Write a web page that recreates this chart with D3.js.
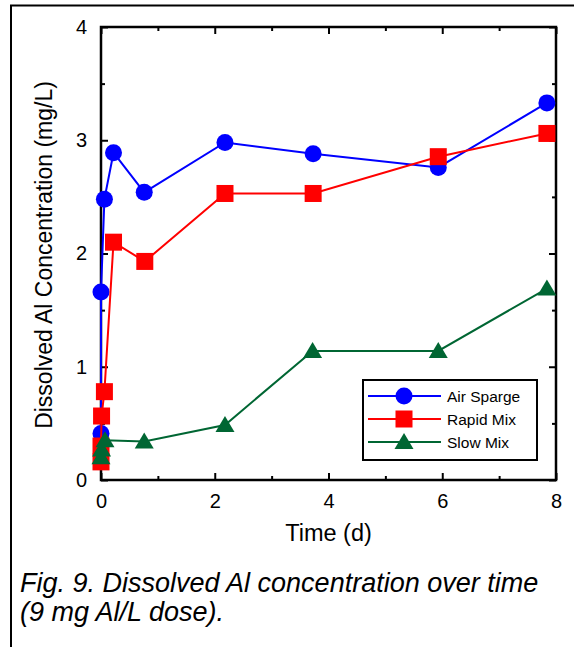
<!DOCTYPE html>
<html>
<head>
<meta charset="utf-8">
<script src="https://cdn.jsdelivr.net/npm/d3@7"></script>
<style>
  body { margin: 0; background: #fff; }
  svg { display: block; }
  svg text { font-family: "Liberation Sans", Arial, sans-serif; }
</style>
</head>
<body>
<div id="chart"></div>
<script>
// values
const airTime = [0, 0, 0.06, 0.22, 0.76, 2.18, 3.73, 5.93, 7.84];
const airConc = [0.41, 1.66, 2.48, 2.89, 2.54, 2.98, 2.88, 2.76, 3.33];

const rapidTime = [0, 0, 0.01, 0.06, 0.22, 0.77, 2.18, 3.73, 5.93, 7.84];
const rapidConc = [0.16, 0.3, 0.565, 0.78, 2.10, 1.93, 2.53, 2.53, 2.855, 3.06];

const slowTime = [0, 0.01, 0.07, 0.76, 2.18, 3.72, 5.93, 7.84];
const slowConc = [0.2, 0.27, 0.35, 0.34, 0.486, 1.14, 1.14, 1.69];

const xTicks = [0, 2, 4, 6, 8];
const yTicks = [0, 1, 2, 3, 4];

const series = [
  { name: "Air Sparge", color: "#0000ff", shape: "circle", t: airTime, c: airConc },
  { name: "Rapid Mix", color: "#ff0000", shape: "square", t: rapidTime, c: rapidConc },
  { name: "Slow Mix", color: "#006633", shape: "triangle", t: slowTime, c: slowConc }
];

const W = 574, H = 647;
const margin = { top: 27, left: 101 };
const width = 455, height = 453;

const svg = d3.select("#chart").append("svg")
  .attr("width", W).attr("height", H);

// outer frame
svg.append("rect")
  .attr("x", 11).attr("y", 5.5)
  .attr("width", 600).attr("height", 700)
  .attr("fill", "none").attr("stroke", "#000").attr("stroke-width", 2);

const g = svg.append("g").attr("transform", `translate(${margin.left},${margin.top})`);

const x = d3.scaleLinear().domain([0, 8]).range([0, width]);
const y = d3.scaleLinear().domain([0, 4]).range([height, 0]);

const minorX = d3.range(1, 8, 2);
const minorY = d3.range(0.5, 4, 1);

function styleAxis(sel) {
  sel.attr("font-family", null).attr("font-size", null);
  sel.select(".domain").remove();
  sel.selectAll("line").attr("stroke", "#000").attr("stroke-width", 2);
  sel.selectAll("text").attr("fill", "#000").style("font-size", "20px");
}

// bottom axis
g.append("g").attr("transform", `translate(0,${height})`)
  .call(d3.axisBottom(x).tickValues(xTicks).tickSizeInner(-7).tickSizeOuter(0).tickPadding(14).tickFormat(d3.format("d")))
  .call(styleAxis);
g.append("g").attr("transform", `translate(0,${height})`)
  .call(d3.axisBottom(x).tickValues(minorX).tickSizeInner(-4).tickSizeOuter(0).tickFormat(""))
  .call(styleAxis);
// top axis
g.append("g")
  .call(d3.axisTop(x).tickValues(xTicks).tickSizeInner(-7).tickSizeOuter(0).tickFormat(""))
  .call(styleAxis);
g.append("g")
  .call(d3.axisTop(x).tickValues(minorX).tickSizeInner(-4).tickSizeOuter(0).tickFormat(""))
  .call(styleAxis);
// left axis
g.append("g")
  .call(d3.axisLeft(y).tickValues(yTicks).tickSizeInner(-7).tickSizeOuter(0).tickPadding(14).tickFormat(d3.format("d")))
  .call(styleAxis);
g.append("g")
  .call(d3.axisLeft(y).tickValues(minorY).tickSizeInner(-4).tickSizeOuter(0).tickFormat(""))
  .call(styleAxis);
// right axis
g.append("g").attr("transform", `translate(${width},0)`)
  .call(d3.axisRight(y).tickValues(yTicks).tickSizeInner(-7).tickSizeOuter(0).tickFormat(""))
  .call(styleAxis);
g.append("g").attr("transform", `translate(${width},0)`)
  .call(d3.axisRight(y).tickValues(minorY).tickSizeInner(-4).tickSizeOuter(0).tickFormat(""))
  .call(styleAxis);

// plot frame
g.append("rect")
  .attr("width", width).attr("height", height)
  .attr("fill", "none").attr("stroke", "#000").attr("stroke-width", 2.5);

function marker(sel, shape, color) {
  if (shape === "circle") {
    sel.append("circle").attr("r", 8.5).attr("fill", color);
  } else if (shape === "square") {
    sel.append("rect").attr("x", -8.5).attr("y", -8.5)
      .attr("width", 17).attr("height", 17).attr("fill", color);
  } else {
    sel.append("path").attr("d", "M0,-9L9.5,7L-9.5,7Z").attr("fill", color);
  }
}

const line = d3.line().x(d => x(d[0])).y(d => y(d[1]));

series.forEach(s => {
  const pts = s.t.map((t, i) => [t, s.c[i]]);
  g.append("path").datum(pts)
    .attr("d", line)
    .attr("fill", "none").attr("stroke", s.color).attr("stroke-width", 2);
  g.selectAll(null).data(pts).enter().append("g")
    .attr("transform", d => `translate(${x(d[0])},${y(d[1])})`)
    .each(function () { marker(d3.select(this), s.shape, s.color); });
});

// legend
const lg = svg.append("g").attr("transform", "translate(363,380)");
lg.append("rect").attr("width", 174).attr("height", 80)
  .attr("fill", "#fff").attr("stroke", "#000").attr("stroke-width", 2);
series.forEach((s, i) => {
  const ry = 16 + i * 23;
  lg.append("line").attr("x1", 5).attr("x2", 78).attr("y1", ry).attr("y2", ry)
    .attr("stroke", s.color).attr("stroke-width", 2);
  const m = lg.append("g").attr("transform", `translate(41,${ry})`);
  marker(m, s.shape, s.color);
  lg.append("text").attr("x", 84).attr("y", ry + 5.5)
    .style("font-size", "15.5px").text(s.name);
});

// axis titles
svg.append("text")
  .attr("x", margin.left + width / 2).attr("y", 541)
  .attr("text-anchor", "middle").style("font-size", "23.5px")
  .text("Time (d)");

svg.append("text")
  .attr("transform", `translate(52,${255}) rotate(-90)`)
  .attr("text-anchor", "middle").style("font-size", "23px")
  .text("Dissolved Al Concentration (mg/L)");

// caption
const cap = svg.append("text").attr("x", 20).style("font-size", "27px").style("font-style", "italic");
cap.append("tspan").attr("x", 20).attr("y", 592).text("Fig. 9. Dissolved Al concentration over time");
cap.append("tspan").attr("x", 20).attr("y", 621).text("(9 mg Al/L dose).");
</script>
</body>
</html>
